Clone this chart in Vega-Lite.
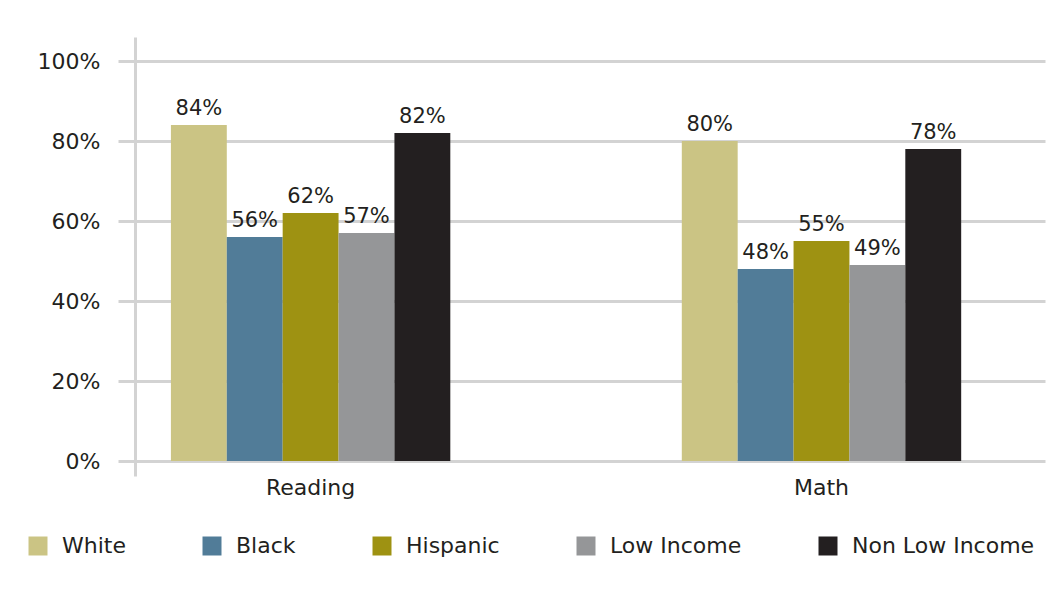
{
  "$schema": "https://vega.github.io/schema/vega-lite/v6.json",
  "width": 910,
  "height": 439,
  "autosize": {"type": "none"},
  "padding": {"left": 135, "top": 37, "right": 3, "bottom": 114},
  "background": "#ffffff",
  "config": {
    "font": "DejaVu Sans",
    "view": {"stroke": null},
    "axis": {"labelColor": "#231F20", "labelFont": "DejaVu Sans"},
    "legend": {"labelFont": "DejaVu Sans"}
  },
  "data": {
    "values": [
      {"subject": "Reading", "group": "White", "value": 0.84},
      {"subject": "Reading", "group": "Black", "value": 0.56},
      {"subject": "Reading", "group": "Hispanic", "value": 0.62},
      {"subject": "Reading", "group": "Low Income", "value": 0.57},
      {"subject": "Reading", "group": "Non Low Income", "value": 0.82},
      {"subject": "Math", "group": "White", "value": 0.80},
      {"subject": "Math", "group": "Black", "value": 0.48},
      {"subject": "Math", "group": "Hispanic", "value": 0.55},
      {"subject": "Math", "group": "Low Income", "value": 0.49},
      {"subject": "Math", "group": "Non Low Income", "value": 0.78}
    ]
  },
  "encoding": {
    "x": {
      "field": "subject",
      "type": "nominal",
      "sort": ["Reading", "Math"],
      "scale": {"domain": ["Reading", "Math"], "paddingInner": 0.453125, "paddingOuter": 0.1171875, "align": 0.3},
      "axis": {"title": null, "domain": false, "ticks": false, "labelAngle": 0, "labelFontSize": 22, "labelPadding": 1, "grid": false}
    },
    "xOffset": {
      "field": "group",
      "type": "nominal",
      "scale": {"domain": ["White", "Black", "Hispanic", "Low Income", "Non Low Income"], "paddingInner": 0, "paddingOuter": 0}
    },
    "y": {
      "field": "value",
      "type": "quantitative",
      "scale": {"domain": [-0.0375, 1.06], "nice": false, "zero": false},
      "axis": {
        "title": null,
        "values": [0, 0.2, 0.4, 0.6, 0.8, 1.0],
        "format": ".0%",
        "labelFontSize": 22,
        "labelPadding": 18,
        "tickSize": 17,
        "tickColor": "#D3D3D3",
        "tickWidth": 3,
        "grid": true,
        "gridColor": "#D3D3D3",
        "gridWidth": 3,
        "domain": true,
        "domainColor": "#D3D3D3",
        "domainWidth": 3
      }
    }
  },
  "layer": [
    {
      "mark": {"type": "bar"},
      "encoding": {
        "y2": {"datum": 0},
        "color": {
          "field": "group",
          "type": "nominal",
          "scale": {
            "domain": ["White", "Black", "Hispanic", "Low Income", "Non Low Income"],
            "range": ["#CBC484", "#517C98", "#9E9212", "#959698", "#231F20"]
          },
          "legend": {
            "title": null,
            "orient": "none",
            "legendX": -108,
            "legendY": 498,
            "direction": "horizontal",
            "symbolType": "square",
            "symbolSize": 361,
            "symbolStrokeWidth": 0,
            "labelFontSize": 22,
            "labelColor": "#231F20",
            "labelOffset": 13,
            "columnPadding": 75,
            "labelLimit": 400
          }
        }
      }
    },
    {
      "mark": {"type": "text", "baseline": "alphabetic", "dy": -10, "fontSize": 21, "color": "#231F20"},
      "encoding": {
        "text": {"field": "value", "type": "quantitative", "format": ".0%"}
      }
    }
  ]
}
